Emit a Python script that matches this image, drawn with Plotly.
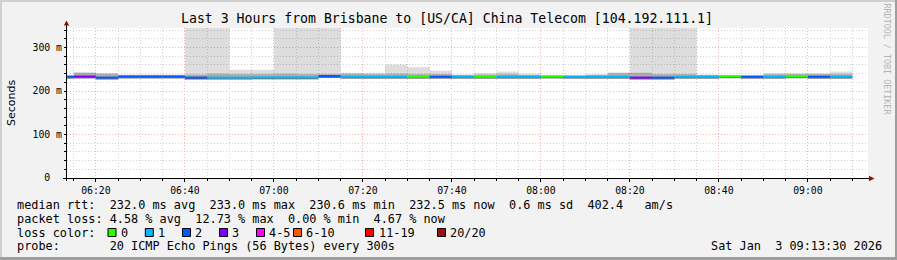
import plotly.graph_objects as go
import pandas as pd

# ---------------- data ----------------
day = "2026-01-03"
bin_start = ["06:10", "06:15", "06:20", "06:25", "06:30", "06:35", "06:40", "06:45", "06:50",
             "06:55", "07:00", "07:05", "07:10", "07:15", "07:20", "07:25", "07:30", "07:35",
             "07:40", "07:45", "07:50", "07:55", "08:00", "08:05", "08:10", "08:15", "08:20",
             "08:25", "08:30", "08:35", "08:40", "08:45", "08:50", "08:55", "09:00", "09:05"]
median_ms = [233.0, 233.4, 231.0, 233.4, 233.4, 233.4, 231.0, 231.0, 231.0,
             231.5, 231.5, 231.5, 234.5, 233.0, 233.0, 233.0, 233.0, 233.0,
             233.0, 233.0, 233.0, 233.0, 233.5, 233.0, 233.0, 233.0, 231.0,
             231.0, 233.0, 233.0, 234.0, 233.0, 233.0, 234.0, 233.0, 233.0]
loss_pings = [2, 3, 2, 2, 2, 2, 2, 1, 1,
              1, 1, 1, 2, 1, 1, 1, 0, 2,
              1, 0, 1, 1, 0, 1, 1, 1, 3,
              2, 1, 1, 0, 2, 1, 0, 2, 1]
smoke_top_ms = [236, 243, 241, 238, 238, 238, 360, 360, 249,
                249, 360, 360, 360, 242, 242, 261, 255, 247,
                238, 241, 245, 240, 236, 236, 239, 243, 360,
                360, 360, 238, 236, 236, 241, 241, 241, 245]
smoke_core_ms = [236, 242, 240, 237, 237, 237, 238, 240, 239,
                 239, 240, 239, 239, 240, 239, 240, 239, 239,
                 237, 238, 239, 237, 236, 236, 237, 241, 242,
                 239, 239, 237, 236, 236, 239, 239, 239, 239]

loss_levels = ["0", "1", "2", "3", "4-5", "6-10", "11-19", "20/20"]
loss_colors = ["#26ff00", "#00b8ff", "#0059ff", "#7e00ff", "#ff00ff", "#ff5500", "#ff0000", "#a01010"]
y_tick_vals = [0, 100, 200, 300]
y_tick_text = ["0\u00a0\u00a0", "100\u00a0m", "200\u00a0m", "300\u00a0m"]

title_text = "Last 3 Hours from Brisbane to [US/CA] China Telecom [104.192.111.1]"
row_rtt = "median rtt:  232.0 ms avg  233.0 ms max  230.6 ms min  232.5 ms now  0.6 ms sd  402.4   am/s"
row_loss = "packet loss: 4.58 % avg  12.73 % max  0.00 % min  4.67 % now"
row_color = "loss color:"
row_probe = "probe:       20 ICMP Echo Pings (56 Bytes) every 300s"
stamp = "Sat Jan  3 09:13:30 2026"

# ---------------- helpers ----------------
W, H = 897, 260
L, R, T, B = 67, 868, 28, 178
MONO = "DejaVu Sans Mono"


def px(x):
    return (x - L) / (R - L)


def py(y):
    return (B - y) / (B - T)


def nb(s):
    return s.replace(" ", "\u00a0")


def loss_color(n):
    if n <= 3:
        return loss_colors[n]
    if n <= 5:
        return loss_colors[4]
    if n <= 10:
        return loss_colors[5]
    if n <= 19:
        return loss_colors[6]
    return loss_colors[7]


step = pd.Timedelta(minutes=5)
centers = [pd.Timestamp(f"{day} {s}") + step / 2 for s in bin_start]
bw = step.total_seconds() * 1000

fig = go.Figure()

# light smoke
fig.add_trace(go.Bar(x=centers, base=median_ms,
                     y=[t - m for t, m in zip(smoke_top_ms, median_ms)],
                     width=bw, marker=dict(color="rgba(0,0,0,0.135)", line=dict(width=0)),
                     hoverinfo="skip"))
# core smoke
fig.add_trace(go.Bar(x=centers, base=median_ms,
                     y=[c - m for c, m in zip(smoke_core_ms, median_ms)],
                     width=bw, marker=dict(color="rgba(0,0,0,0.22)", line=dict(width=0)),
                     hoverinfo="skip"))
# smoke just below the median
fig.add_trace(go.Bar(x=centers, base=[m - 4.6 for m in median_ms], y=[4.6] * len(median_ms),
                     width=bw, marker=dict(color="rgba(70,70,70,0.75)", line=dict(width=0)),
                     hoverinfo="skip"))
# median line coloured by loss
fig.add_trace(go.Bar(x=centers, base=[m - 2.3 for m in median_ms], y=[4.6] * len(median_ms),
                     width=bw, marker=dict(color=[loss_color(n) for n in loss_pings], line=dict(width=0)),
                     hoverinfo="skip"))

major_grid = "#f4b4b4"
minor_grid = "#d2d2d2"

fig.update_layout(
    width=W, height=H,
    margin=dict(l=L, r=W - R, t=T, b=H - B, pad=0),
    paper_bgcolor="#f2f2f2",
    plot_bgcolor="#ffffff",
    barmode="overlay",
    showlegend=False,
    font=dict(family=MONO, size=10, color="#000000"),
    xaxis=dict(
        type="date",
        range=[f"{day} 06:13:30", f"{day} 09:13:30"],
        tick0=f"{day} 06:00:00", dtick=20 * 60 * 1000,
        tickformat="%H:%M",
        tickfont=dict(family=MONO, size=9.8, color="#000"),
        ticks="outside", ticklen=3, tickcolor="#000", tickwidth=1,
        showgrid=True, gridcolor=major_grid, griddash="1px,2px", gridwidth=1,
        minor=dict(dtick=5 * 60 * 1000, tick0=f"{day} 06:00:00", showgrid=True, gridcolor=minor_grid,
                   griddash="1px,2px", ticks="outside", ticklen=2, tickcolor="#000"),
        showline=False, zeroline=False, fixedrange=True,
    ),
    yaxis=dict(
        range=[0, 345],
        tickvals=y_tick_vals, ticktext=y_tick_text,
        tickfont=dict(family=MONO, size=9.8, color="#000"),
        ticks="outside", ticklen=2, tickcolor="#000", tickwidth=1,
        showgrid=True, gridcolor=major_grid, griddash="1px,2px", gridwidth=1,
        minor=dict(dtick=20, tick0=0, showgrid=True, gridcolor=minor_grid, griddash="1px,2px",
                   ticks="outside", ticklen=2, tickcolor="#000"),
        showline=False, zeroline=False, fixedrange=True,
        title=dict(text="Seconds", font=dict(family="DejaVu Sans", size=11), standoff=14),
    ),
)

shapes = []
# frame
shapes.append(dict(type="rect", xref="paper", yref="paper", x0=px(0), x1=px(W), y0=py(0), y1=py(2),
                   fillcolor="#cfcfcf", line=dict(width=0)))
shapes.append(dict(type="rect", xref="paper", yref="paper", x0=px(0), x1=px(2), y0=py(0), y1=py(H),
                   fillcolor="#cfcfcf", line=dict(width=0)))
shapes.append(dict(type="rect", xref="paper", yref="paper", x0=px(0), x1=px(W), y0=py(H - 3), y1=py(H),
                   fillcolor="#9e9e9e", line=dict(width=0)))
shapes.append(dict(type="rect", xref="paper", yref="paper", x0=px(W - 2), x1=px(W), y0=py(0), y1=py(H),
                   fillcolor="#9e9e9e", line=dict(width=0)))
# axes
shapes.append(dict(type="line", xref="paper", yref="paper", x0=px(66.5), x1=px(66.5), y0=py(181), y1=py(23),
                   line=dict(color="#000", width=1), layer="above"))
shapes.append(dict(type="line", xref="paper", yref="paper", x0=px(63), x1=px(870), y0=py(178.5), y1=py(178.5),
                   line=dict(color="#000", width=1), layer="above"))
# arrows
shapes.append(dict(type="path", xref="paper", yref="paper",
                   path=f"M {px(63.8)} {py(25.5)} L {px(69.2)} {py(25.5)} L {px(66.5)} {py(20.5)} Z",
                   fillcolor="#8b1010", line=dict(width=0), layer="above"))
shapes.append(dict(type="path", xref="paper", yref="paper",
                   path=f"M {px(869)} {py(175.8)} L {px(869)} {py(181.2)} L {px(874.5)} {py(178.5)} Z",
                   fillcolor="#8b1010", line=dict(width=0), layer="above"))

# legend colour boxes
box_x = [108, 145.3, 182.5, 219.5, 256.5, 293.5, 365.5, 437.5]
label_x = [119, 156, 193, 230, 267, 304, 376.5, 448]
for bx, col in zip(box_x, loss_colors):
    shapes.append(dict(type="rect", xref="paper", yref="paper", x0=px(bx), x1=px(bx + 8),
                       y0=py(228.5), y1=py(236.5), fillcolor=col, line=dict(color="#000", width=1)))

annotations = []


def ann(text, x, y, size=11.85, anchor="left", color="#000", family=MONO, angle=0, yanchor="middle"):
    annotations.append(dict(text=nb(text), x=px(x), y=py(y), xref="paper", yref="paper",
                            xanchor=anchor, yanchor=yanchor, showarrow=False, textangle=angle,
                            font=dict(family=family, size=size, color=color)))


ann(title_text, 447, 19, size=13.2, anchor="center")
ann(row_rtt, 15, 204.5)
ann(row_loss, 15, 218.5)
ann(row_color, 15, 232.5)
ann(row_probe, 15, 246.5)
ann(stamp, 884, 246.5, anchor="right")
for lx, lab in zip(label_x, loss_levels):
    ann(lab, lx, 232.5)
ann("RRDTOOL / TOBI OETIKER", 886, 59.5, size=8.4, anchor="center", color="#b4b4b4", angle=90)

fig.update_layout(shapes=shapes, annotations=annotations)

fig.write_html("out.html")
